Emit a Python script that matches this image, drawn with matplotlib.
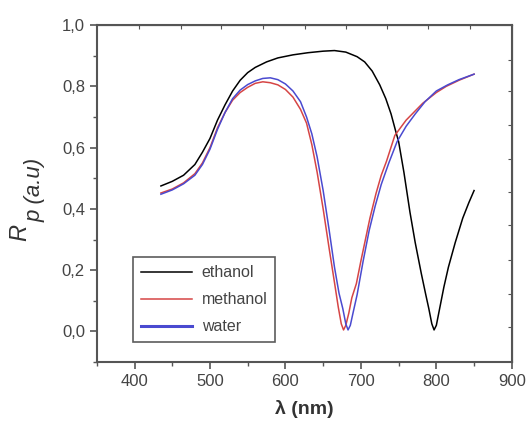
import matplotlib
matplotlib.use('Agg')
import matplotlib.pyplot as plt
from matplotlib.ticker import MultipleLocator, FuncFormatter

plt.rcParams['font.family'] = 'Liberation Sans'

# data (wavelength nm, reflectance)
ethanol_x = [435, 450, 465, 480, 490, 500, 510, 520, 530, 540, 550, 560, 575, 590,
             610, 630, 650, 665, 680, 695, 705, 715, 725, 733, 740, 746, 750, 757,
             765, 772, 780, 786, 790, 794, 797, 800, 804, 810, 816, 825, 835, 843, 850]
ethanol_y = [0.475, 0.49, 0.51, 0.545, 0.585, 0.63, 0.69, 0.74, 0.785, 0.82, 0.845,
             0.862, 0.88, 0.893, 0.903, 0.91, 0.915, 0.917, 0.912, 0.897, 0.88, 0.85,
             0.805, 0.76, 0.71, 0.655, 0.62, 0.52, 0.39, 0.29, 0.19, 0.12, 0.075,
             0.025, 0.005, 0.02, 0.07, 0.145, 0.21, 0.29, 0.37, 0.42, 0.46]

methanol_x = [435, 450, 465, 480, 490, 500, 510, 520, 530, 540, 550, 560, 570, 580,
              590, 600, 610, 620, 628, 635, 642, 650, 658, 665, 670, 674, 677, 680,
              684, 688, 694, 700, 706, 712, 720, 727, 734, 745, 760, 782, 800, 813,
              830, 850]
methanol_y = [0.452, 0.465, 0.485, 0.515, 0.55, 0.60, 0.665, 0.715, 0.755, 0.78,
              0.797, 0.81, 0.815, 0.812, 0.805, 0.79, 0.765, 0.725, 0.68, 0.61, 0.52,
              0.40, 0.27, 0.16, 0.08, 0.025, 0.005, 0.02, 0.06, 0.11, 0.156, 0.23,
              0.30, 0.37, 0.45, 0.51, 0.556, 0.64, 0.69, 0.745, 0.78, 0.80, 0.82, 0.84]

water_x = [435, 450, 465, 480, 490, 500, 510, 520, 530, 540, 550, 560, 570, 580,
           590, 600, 610, 620, 628, 635, 642, 650, 658, 665, 671, 676, 680, 683,
           686, 690, 695, 703, 711, 719, 727, 737, 748, 760, 772, 785, 800, 815,
           830, 850]
water_y = [0.448, 0.462, 0.482, 0.51, 0.545, 0.595, 0.66, 0.715, 0.76, 0.788,
           0.806, 0.818, 0.826, 0.828, 0.822, 0.808, 0.785, 0.75, 0.70, 0.645, 0.57,
           0.46, 0.33, 0.21, 0.125, 0.075, 0.025, 0.005, 0.02, 0.065, 0.12, 0.23,
           0.33, 0.41, 0.48, 0.55, 0.62, 0.67, 0.71, 0.75, 0.785, 0.805, 0.822, 0.84]

# the frame's top / right ticks don't line up with the bottom / left ones
top_ticks = [406, 462, 514, 570, 626, 680, 734, 789, 845]
right_ticks = [0.015, 0.122, 0.233, 0.346, 0.454, 0.564, 0.675, 0.785, 0.886]

grey = '#555555'

fig = plt.figure(figsize=(5.26, 4.26), dpi=100)
ax = fig.add_axes([0.184, 0.150, 0.789, 0.791])

ax.plot(ethanol_x, ethanol_y, color='black', lw=1.1, label='ethanol')
ax.plot(methanol_x, methanol_y, color='#d64545', lw=1.1, label='methanol')
ax.plot(water_x, water_y, color='#4a4ad0', lw=1.1, label='water')

ax.set_xlim(350, 900)
ax.set_ylim(-0.1, 1.0)
ax.xaxis.set_major_locator(MultipleLocator(100))
ax.xaxis.set_minor_locator(MultipleLocator(50))
ax.yaxis.set_major_locator(MultipleLocator(0.2))
ax.yaxis.set_minor_locator(MultipleLocator(0.1))
ax.yaxis.set_major_formatter(FuncFormatter(lambda v, p: f'{v:.1f}'.replace('.', ',').replace('-0,0', '0,0')))

ax.tick_params(which='both', direction='out', colors=grey, labelcolor='#444444',
               labelsize=12, top=False, right=False)
ax.tick_params(which='major', length=5, width=1.2)
ax.tick_params(which='minor', length=3, width=1.0)
for s in ax.spines.values():
    s.set_color(grey)
    s.set_linewidth(1.5)

sx = ax.secondary_xaxis('top')
sx.set_xticks(top_ticks)
sx.tick_params(direction='in', length=3, colors=grey, labeltop=False)
sy = ax.secondary_yaxis('right')
sy.set_yticks(right_ticks)
sy.tick_params(direction='in', length=3, colors=grey, labelright=False)

ax.set_xlabel('λ (nm)', fontsize=14, fontweight='bold', color='#333333', labelpad=8)

# y label: big italic R with a lowered "p (a.u)"
fig.text(20 / 526, 1 - 241 / 426, 'R', rotation=90, fontsize=17, style='italic',
         color='#333333', ha='center', va='bottom')
fig.text(35 / 526, 1 - 222 / 426, 'p (a.u)', rotation=90, fontsize=16, style='italic',
         color='#333333', ha='center', va='bottom')

leg = ax.legend(loc='lower left', bbox_to_anchor=(0.087, 0.059), fontsize=11.5,
                handlelength=3.2, frameon=True, fancybox=False, borderpad=0.5,
                labelspacing=0.75, handletextpad=0.6, borderaxespad=0)
leg.get_frame().set_edgecolor('#333333')
leg.get_frame().set_linewidth(1.2)
for t in leg.get_texts():
    t.set_color('#444444')
leg.get_lines()[2].set_linewidth(2.2)

fig.savefig('out.png', dpi=100)
